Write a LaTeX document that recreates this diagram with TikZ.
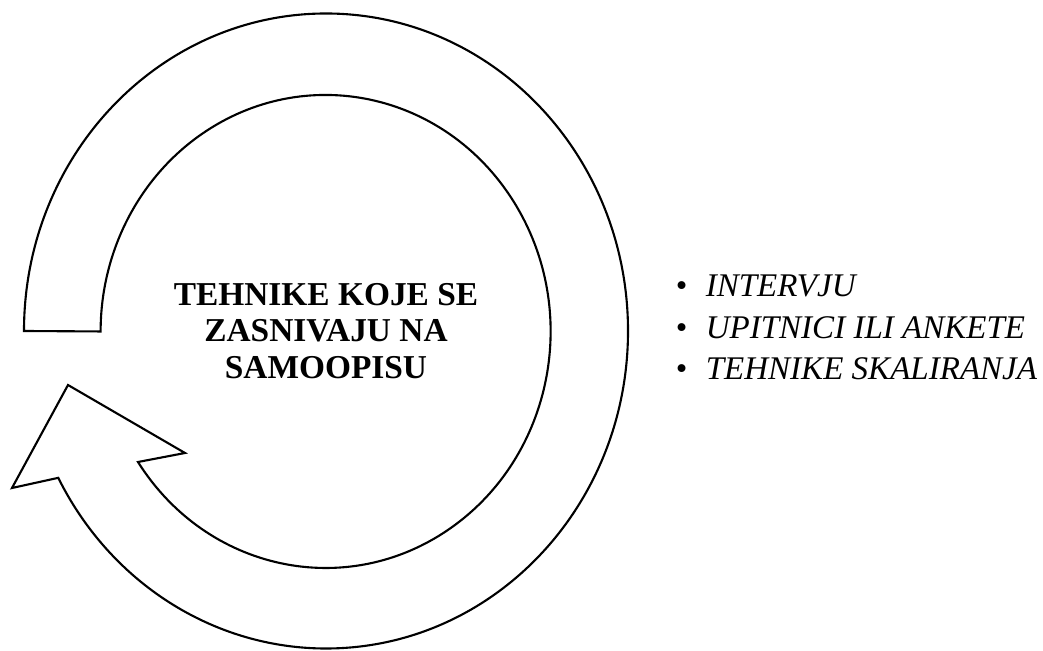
\documentclass[tikz,border=0pt]{standalone}
\usepackage{fontspec}
\setmainfont{Liberation Serif}
\usetikzlibrary{calc}

\begin{document}
\begin{tikzpicture}[line width=0.6pt, line join=miter,
  ringtxt/.style={font=\fontsize{9.5}{10.4}\selectfont\bfseries, align=center},
  itemtxt/.style={font=\fontsize{9.4}{11.8}\selectfont, anchor=base west}]
  \useasboundingbox (0,0) rectangle (10.43,6.5);
  % --- kruzna strelica ---
  \coordinate (c) at (3.26,3.19);
  \draw ($(c)+(180:3.02 and 3.175)$)
    arc[start angle=180, end angle=-152.45, x radius=3.02, y radius=3.175]
    -- (0.12,1.62) -- (0.68,2.65) -- (1.85,1.97) -- (1.38,1.88)
    arc[start angle=-146.5, end angle=180, x radius=2.25, y radius=2.365]
    -- cycle;
  \node[ringtxt] (naslov) at (c) {TEHNIKE KOJE SE\\ZASNIVAJU NA\\SAMOOPISU};

  % --- lista tehnika ---
  \foreach \txt [count=\i] in {INTERVJU, UPITNICI ILI ANKETE, TEHNIKE SKALIRANJA}
    \node[itemtxt] (item\i) at ({6.63},{3.53-0.415*(\i-1)})
      {\makebox[0.3cm][l]{\textbullet}\textit{\txt}};
\end{tikzpicture}
\end{document}
